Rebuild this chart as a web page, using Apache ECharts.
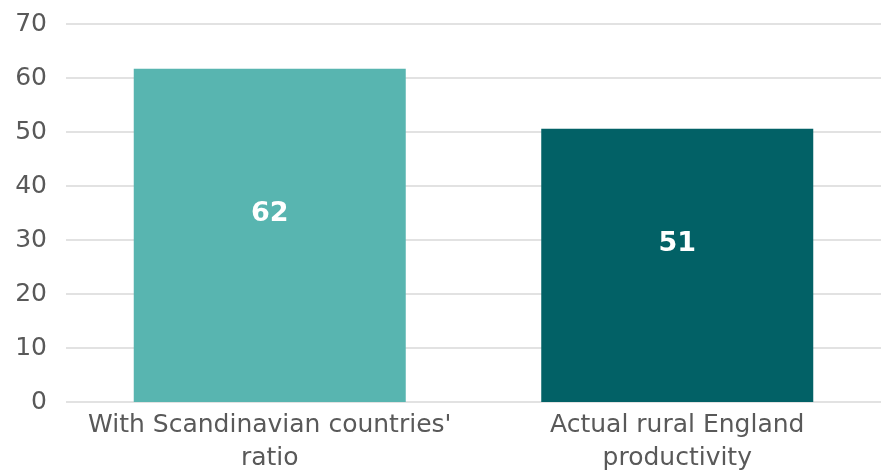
<!DOCTYPE html>
<html>
<head>
<meta charset="utf-8">
<script src="https://cdn.jsdelivr.net/npm/echarts@6/dist/echarts.min.js"></script>
<style>html,body{margin:0;padding:0;background:#fff}#c{width:881px;height:471px}</style>
</head>
<body>
<div id="c"></div>
<script>
const categories = ["With Scandinavian countries'\nratio", "Actual rural England\nproductivity"];
const values = [61.7, 50.6];
const labels = ["62", "51"];
const colors = ["#58B5B0", "#026166"];
const yTicks = [0, 10, 20, 30, 40, 50, 60, 70];

const chart = echarts.init(document.getElementById('c'));
chart.setOption({
  animation: false,
  grid: {left: 66, right: 0, top: 24, bottom: 69, containLabel: false, outerBoundsMode: 'none'},
  xAxis: {
    type: 'category',
    data: categories,
    axisLine: {show: false},
    axisTick: {show: false},
    axisLabel: {interval: 0, color: '#595959', fontFamily: 'DejaVu Sans', fontSize: 25, lineHeight: 33, margin: 7}
  },
  yAxis: {
    type: 'value',
    min: yTicks[0], max: yTicks[yTicks.length-1], interval: 10,
    axisLine: {show: false},
    axisTick: {show: false},
    splitLine: {lineStyle: {color: '#D9D9D9', width: 1.5}},
    axisLabel: {color: '#595959', fontFamily: 'DejaVu Sans', fontSize: 25, margin: 19}
  },
  series: [{
    type: 'bar',
    barWidth: 272,
    data: values.map((v, i) => ({value: v, itemStyle: {color: colors[i]}})),
    label: {
      show: true, position: 'inside', offset: [0, -21],
      formatter: p => labels[p.dataIndex],
      color: '#fff', fontWeight: 'bold', fontFamily: 'DejaVu Sans', fontSize: 27
    }
  }]
});
</script>
</body>
</html>
